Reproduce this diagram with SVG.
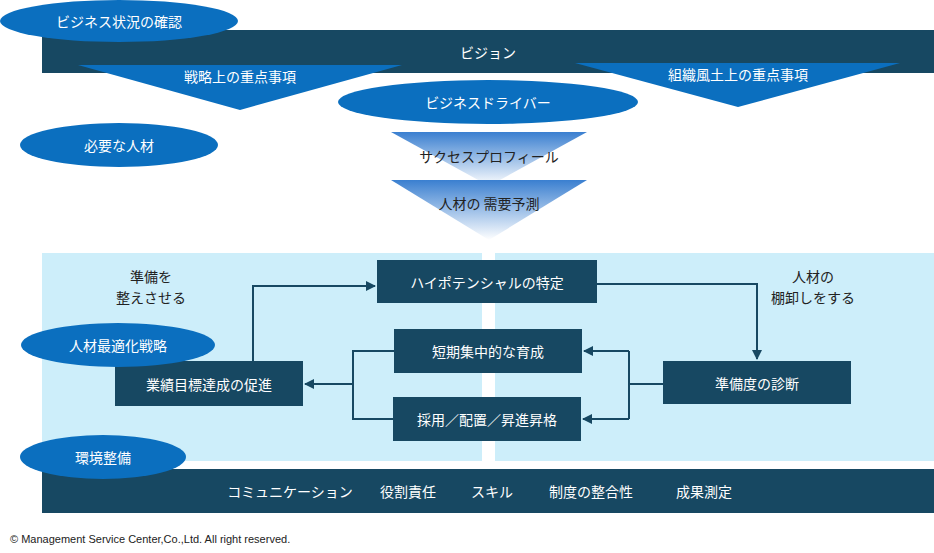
<svg xmlns="http://www.w3.org/2000/svg" width="934" height="553" viewBox="0 0 934 553">
<style>
text{font-family:"Noto Sans CJK JP","Liberation Sans",sans-serif;text-anchor:middle;dominant-baseline:central}
.w{fill:#fff;font-size:14px}
.k{fill:#222;font-size:14px}
.dark{fill:#174862}
.ell{fill:#0b6fbf}
.tri{fill:#0b6fbf}
.pan{fill:#cdeefa}
.con{fill:none;stroke:#174862;stroke-width:2}
</style>
<defs>
<marker id="ah" viewBox="0 0 10 10" refX="9" refY="5" markerWidth="5" markerHeight="5" orient="auto"><path d="M0,0L10,5L0,10z" fill="#174862"/></marker>
<linearGradient id="g" x1="0" y1="0" x2="0" y2="1"><stop offset="0" stop-color="#3a7fd0"/><stop offset="1" stop-color="#ffffff"/></linearGradient>
</defs>
<rect class="pan" x="42" y="253" width="440" height="208"/>
<rect class="pan" x="495" y="253" width="439" height="208"/>
<g id="vision"><rect class="dark" x="42" y="30" width="892" height="43"/><text class="w" x="488" y="52">ビジョン</text></g>
<g id="strategy"><polygon class="tri" points="78,65 402,65 240,110"/><text class="w" x="240" y="76">戦略上の重点事項</text></g>
<g id="culture"><polygon class="tri" points="575,63 900,63 738,107"/><text class="w" x="738" y="74">組織風土上の重点事項</text></g>
<g id="business"><ellipse class="ell" cx="119" cy="21" rx="119" ry="21"/><text class="w" x="119" y="21">ビジネス状況の確認</text></g>
<g id="driver"><ellipse class="ell" cx="488" cy="102" rx="150" ry="22"/><text class="w" x="488" y="102">ビジネスドライバー</text></g>
<g id="need"><ellipse class="ell" cx="119" cy="145" rx="99" ry="22"/><text class="w" x="119" y="145">必要な人材</text></g>
<g id="success"><polygon fill="url(#g)" points="391,132 587,132 489,186"/><text class="k" x="489" y="156">サクセスプロフィール</text></g>
<g id="demand"><polygon fill="url(#g)" points="391,180 587,180 489,240"/><text class="k" x="489" y="203">人材の 需要予測</text></g>
<g id="label1"><text class="k" x="151" y="276">準備を</text><text class="k" x="151" y="297">整えさせる</text></g>
<g id="label2"><text class="k" x="813" y="276">人材の</text><text class="k" x="813" y="297">棚卸しをする</text></g>
<g id="connectors">
<path class="con" d="M253,361V286H375" marker-end="url(#ah)"/>
<path class="con" d="M597,284H757V359" marker-end="url(#ah)"/>
<path class="con" d="M663,384H629"/>
<path class="con" d="M629,351V419"/>
<path class="con" d="M629,351H584" marker-end="url(#ah)"/>
<path class="con" d="M629,419H583" marker-end="url(#ah)"/>
<path class="con" d="M394,351H353V419H393"/>
<path class="con" d="M353,384H305" marker-end="url(#ah)"/>
</g>
<g id="hipo"><rect class="dark" x="377" y="260" width="220" height="43"/><text class="w" x="487" y="282">ハイポテンシャルの特定</text></g>
<g id="dev"><rect class="dark" x="394" y="329" width="188" height="44"/><text class="w" x="488" y="351">短期集中的な育成</text></g>
<g id="hire"><rect class="dark" x="393" y="397" width="188" height="44"/><text class="w" x="487" y="419">採用／配置／昇進昇格</text></g>
<g id="perf"><rect class="dark" x="115" y="361" width="188" height="45"/><text class="w" x="209" y="384">業績目標達成の促進</text></g>
<g id="ready"><rect class="dark" x="663" y="361" width="188" height="43"/><text class="w" x="757" y="383">準備度の診断</text></g>
<g id="opt"><ellipse class="ell" cx="118" cy="345" rx="97" ry="22"/><text class="w" x="118" y="345">人材最適化戦略</text></g>
<g id="envbar"><rect class="dark" x="42" y="469" width="892" height="44"/>
<text class="w" x="290" y="491">コミュニケーション</text><text class="w" x="408" y="491">役割責任</text><text class="w" x="492" y="491">スキル</text><text class="w" x="591" y="491">制度の整合性</text><text class="w" x="704" y="491">成果測定</text></g>
<g id="env"><ellipse class="ell" cx="103" cy="457" rx="83" ry="22"/><text class="w" x="103" y="457">環境整備</text></g>
<text x="10" y="539" style="font-size:11px;text-anchor:start;fill:#222;font-family:'Liberation Sans',sans-serif">© Management Service Center,Co.,Ltd. All right reserved.</text>
</svg>
